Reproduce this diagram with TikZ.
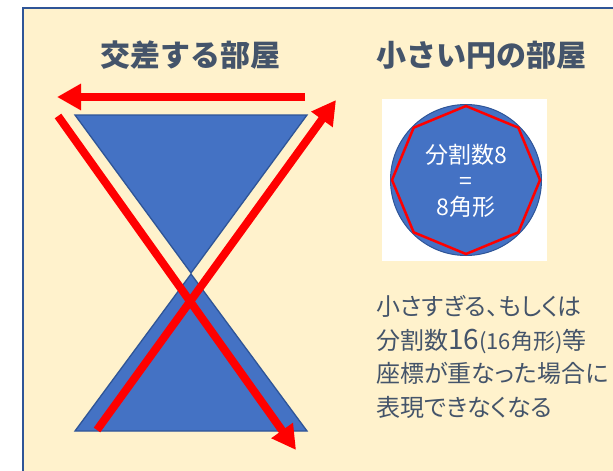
\documentclass[tikz,border=0pt]{standalone}
\usepackage{fontspec}
\setmainfont{Noto Sans CJK JP}
\newfontfamily\jpprop[RawFeature=+palt]{Noto Sans CJK JP}
\usetikzlibrary{arrows.meta}
\definecolor{bgc}{HTML}{FFF2CC}
\definecolor{framec}{HTML}{2F5597}
\definecolor{tric}{HTML}{4472C4}
\definecolor{textc}{HTML}{44546A}
\tikzset{
  tri/.style={fill=tric, draw=framec, line width=1.3pt, line join=miter},
  redarrow/.style={draw=red, line width=8pt, -{Triangle[length=24pt,width=25pt]}},
  title/.style={font=\fontsize{30}{32}\selectfont\bfseries, text=textc, inner sep=0pt},
  body/.style={font=\jpprop\fontsize{24}{33.7}\selectfont, text=textc, inner sep=0pt, align=left},
}
\begin{document}
\begin{tikzpicture}[x=1pt,y=-1pt]
\useasboundingbox (0,0) rectangle (613,471);
\clip (0,0) rectangle (613,471);
\fill[white] (0,0) rectangle (613,471);
\draw[fill=bgc, draw=framec, line width=2.5pt] (23,8) rectangle (650,520);
% titles
\node[title] (t1) at (190,55) {交差する部屋};
\node[title, anchor=west] (t2) at (376,55) {小さい円の部屋};
% hourglass triangles
\draw[tri] (75,115) -- (307,115) -- (191,273) -- cycle;
\draw[tri] (191,274) -- (307,431) -- (75,431) -- cycle;
% red arrows
\coordinate (h1) at (305,97);
\coordinate (h2) at (57,97);
\coordinate (d1s) at (58,116);
\coordinate (d1e) at (296,450);
\coordinate (d2s) at (97,430);
\coordinate (d2e) at (336,100);
\draw[redarrow] (h1) -- (h2);
\draw[redarrow] (d1s) -- (d1e);
\draw[redarrow] (d2s) -- (d2e);
% small circle room
\fill[white] (382,99) rectangle (547,261);
\node[circle, fill=tric, draw=framec, line width=1pt, minimum size=151pt, inner sep=0pt] (c) at (466,180) {};
\draw[red, line width=2.5pt, line join=miter] ([shift={(0:74)}]c.center)
  \foreach \a in {45,90,...,315} { -- ([shift={(\a:74)}]c.center) } -- cycle;
\node[font=\fontsize{23}{26}\selectfont, text=white, align=center, inner sep=0pt] (ct) at (466,181) {分割数8\\=\\8角形};
% explanation
\node[body, anchor=north west] (exp) at (376,295) {小さすぎる、もしくは\\分割数{\fontsize{28}{30}\selectfont 16}{\fontsize{22}{24}\selectfont(16角形)}等\\座標が重なった場合に\\表現できなくなる};
\end{tikzpicture}
\end{document}
